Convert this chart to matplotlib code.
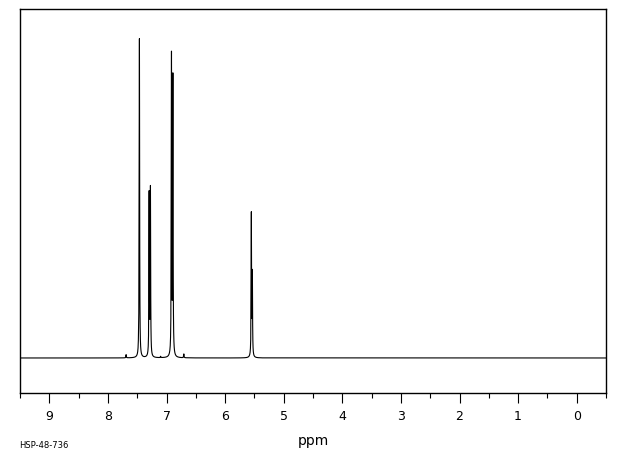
import numpy as np
import matplotlib
matplotlib.use("Agg")
import matplotlib.pyplot as plt
from matplotlib.ticker import MultipleLocator

# Peak table (chemical shift in ppm, relative intensity)
peak_ppm = [7.689, 7.475, 7.462, 7.296, 7.274, 7.10, 6.915, 6.891, 6.704, 5.552, 5.535]
peak_height = [0.010, 0.025, 1.0, 0.508, 0.525, 0.004, 0.94, 0.87, 0.012, 0.446, 0.255]
line_halfwidth = 0.004  # Lorentzian half width (ppm)

tick_labels = ["9", "8", "7", "6", "5", "4", "3", "2", "1", "0"]
sample_id = "HSP-48-736"
x_title = "ppm"

# Spectrum as a sum of Lorentzian lines
ppm = np.arange(-0.5, 9.5, 0.0002)
intensity = np.zeros_like(ppm)
for c, h in zip(peak_ppm, peak_height):
    intensity += h * line_halfwidth**2 / ((ppm - c) ** 2 + line_halfwidth**2)

fig = plt.figure(figsize=(6.2, 4.55), dpi=100)
ax = fig.add_axes([20 / 620, 1 - 393 / 455, 586 / 620, 384 / 455])
ax.plot(ppm, intensity, color="black", lw=0.8)
ax.set_xlim(9.5, -0.5)
ax.set_ylim(-0.110, 1.096)

ax.set_yticks([])
ax.xaxis.set_major_locator(MultipleLocator(1))
ax.xaxis.set_minor_locator(MultipleLocator(0.5))
ax.set_xticks([9 - i for i in range(len(tick_labels))])
ax.set_xticklabels(tick_labels)
ax.tick_params(axis="x", which="major", direction="out", length=7.2, width=0.8,
               labelsize=9, pad=5)
ax.tick_params(axis="x", which="minor", direction="out", length=3.6, width=0.8)
for s in ax.spines.values():
    s.set_linewidth(1.0)
    s.set_color("black")

fig.text(313 / 620, 1 - 441 / 455, x_title, ha="center", va="center", fontsize=10)
fig.text(19 / 620, 1 - 445 / 455, sample_id, ha="left", va="center", fontsize=6)

fig.savefig("out.png", dpi=100, facecolor="white")
